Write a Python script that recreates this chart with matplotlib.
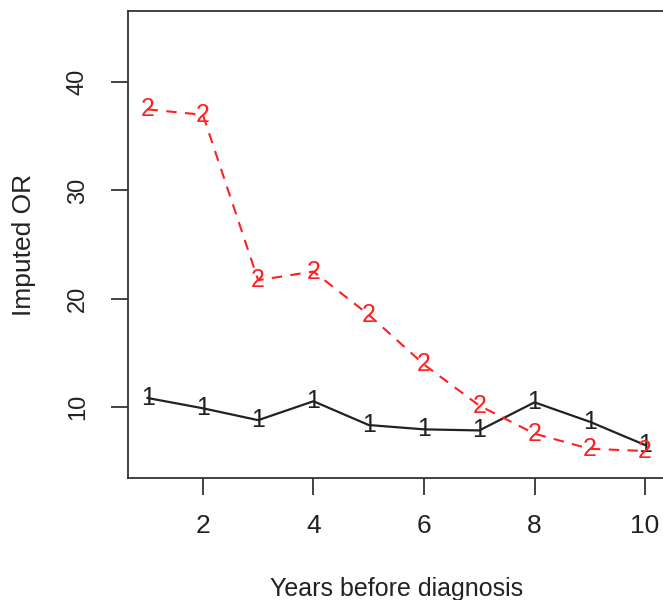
import numpy as np
import matplotlib.pyplot as plt

plt.rcParams['font.family'] = ['Liberation Sans', 'DejaVu Sans']

years = np.arange(1, 11)
or_group1 = [10.8, 9.85, 8.75, 10.5, 8.3, 7.9, 7.8, 10.4, 8.6, 6.45]
or_group2 = [37.5, 37.0, 21.7, 22.5, 18.5, 13.9, 10.1, 7.5, 6.1, 5.9]
x_ticks = [2, 4, 6, 8, 10]
y_ticks = [10, 20, 30, 40]

fig = plt.figure(figsize=(6.63, 6.0), dpi=100)
ax = fig.add_axes([127.7 / 663, 1 - 478 / 600, (665 - 127.7) / 663, (478 - 11) / 600])

ax.plot(years, or_group1, color="#222222", lw=1.6, zorder=2)
ax.plot(years, or_group2, color="#ff2020", lw=1.5, ls=(0, (5, 4)), zorder=2)

# plot characters as point symbols, R-style
for x, y in zip(years, or_group1):
    ax.text(x, y, "1", color="#222222", fontsize=18, ha="center", va="center", zorder=3)
for x, y in zip(years, or_group2):
    ax.text(x, y, "2", color="#ff2020", fontsize=18, ha="center", va="center", zorder=3)

ax.set_xlim(0.64, 10.36)
ax.set_ylim(3.4, 46.6)
ax.set_xticks(x_ticks)
ax.set_yticks(y_ticks)
ax.tick_params(axis="both", length=12, width=1.2, colors="#222222")
ax.tick_params(axis="x", pad=14, labelsize=19)
ax.tick_params(axis="y", pad=16, labelsize=17)
plt.setp(ax.get_yticklabels(), rotation=90, va="center")

for s in ax.spines.values():
    s.set_linewidth(1.3)
    s.set_color("#333333")

ax.set_xlabel("Years before diagnosis", fontsize=18, labelpad=28, color="#222222")
ax.set_ylabel("Imputed OR", fontsize=19, labelpad=22, color="#222222")

fig.savefig("out.png", dpi=100)
